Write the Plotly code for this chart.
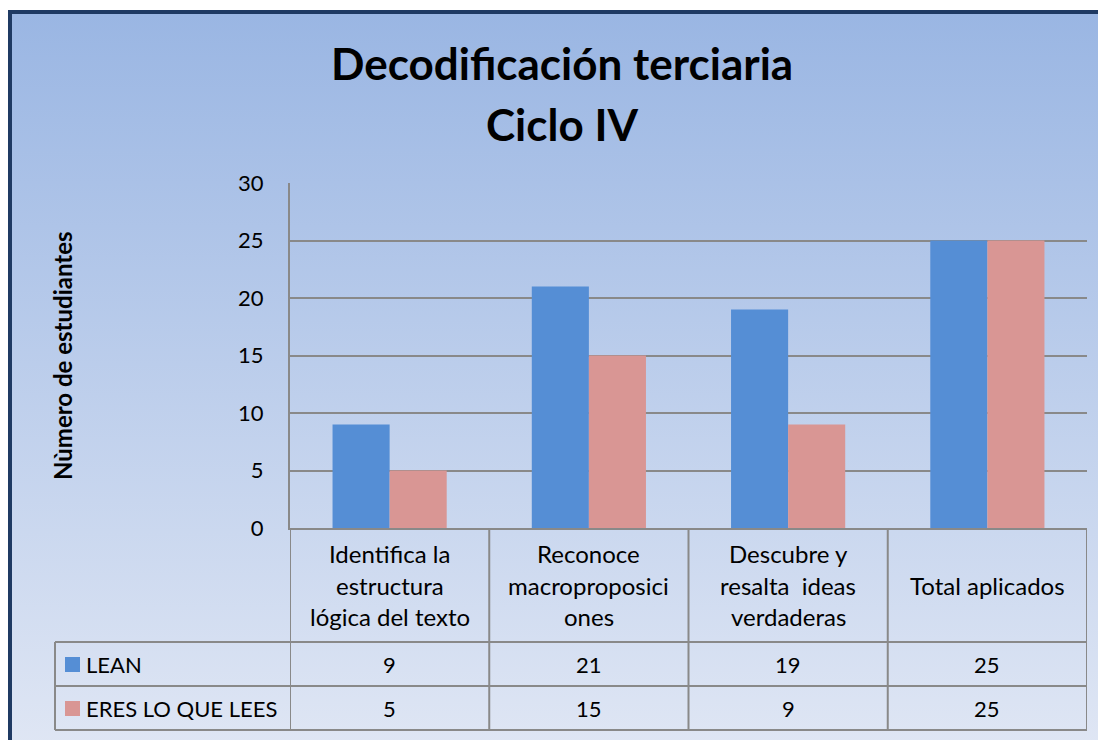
import base64
import plotly.graph_objects as go

# ---- data ----
categories = [
    "Identifica la\nestructura\nlógica del texto",
    "Reconoce\nmacroproposici\nones",
    "Descubre y\nresalta  ideas\nverdaderas",
    "Total aplicados",
]
series_names = ["LEAN", "ERES LO QUE LEES"]
lean_values = [9, 21, 19, 25]
eres_values = [5, 15, 9, 25]
y_ticks = [0, 5, 10, 15, 20, 25, 30]
title_lines = ["Decodificación terciaria", "Ciclo IV"]
y_title = "Nùmero de estudiantes"

# ---- style ----
OFF = 8  # page body margin
W, H = 1106 - OFF, 740 - OFF
L, R, T, B = 290 - OFF, 1087 - OFF, 183 - OFF, 528 - OFF  # plot area in fig px
BLUE = "#558ED5"
PINK = "#D99694"
GRID = "#898989"
FONT = "Lato"
series_values = [lean_values, eres_values]
series_colors = [BLUE, PINK]


def px(xp):  # xp in page px
    return (xp - OFF - L) / (R - L)


def py(yp):
    return (B - (yp - OFF)) / (B - T)


fig = go.Figure()
xs = list(range(len(categories)))
for name, vals, col in zip(series_names, series_values, series_colors):
    fig.add_trace(go.Bar(x=xs, y=vals, name=name, marker=dict(color=col, line=dict(width=0)),
                         showlegend=False))

# gradient background via svg image
svg = ('<svg xmlns="http://www.w3.org/2000/svg" width="100" height="100" preserveAspectRatio="none">'
       '<defs><linearGradient id="g" x1="0" y1="0" x2="0" y2="1">'
       '<stop offset="0" stop-color="#9AB6E3"/><stop offset="1" stop-color="#DFE6F4"/>'
       '</linearGradient></defs><rect width="100" height="100" fill="url(#g)"/></svg>')
src = "data:image/svg+xml;base64," + base64.b64encode(svg.encode()).decode()
fig.add_layout_image(dict(source=src, xref="paper", yref="paper", x=px(12), y=py(14),
                          sizex=px(1110) - px(12), sizey=py(14) - py(745),
                          xanchor="left", yanchor="top", sizing="stretch", layer="below"))

shapes = []
# border (top & left)
shapes.append(dict(type="line", xref="paper", yref="paper", x0=px(8), x1=px(1115), y0=py(12), y1=py(12),
                   line=dict(color="#1F3A63", width=4)))
shapes.append(dict(type="line", xref="paper", yref="paper", x0=px(10), x1=px(10), y0=py(10), y1=py(745),
                   line=dict(color="#1F3A63", width=4)))

# table lines
row_lines = [642, 686, 730]
tl = dict(color=GRID, width=2)
n = len(categories)
for k in range(n + 1):
    xb = k - 0.5
    shapes.append(dict(type="line", xref="x", yref="paper", x0=xb, x1=xb, y0=py(528), y1=py(730), line=tl))
for yy in row_lines:
    shapes.append(dict(type="line", xref="paper", yref="paper", x0=px(55), x1=px(1087), y0=py(yy), y1=py(yy),
                       line=tl))
shapes.append(dict(type="line", xref="paper", yref="paper", x0=px(55), x1=px(55), y0=py(642), y1=py(730),
                   line=tl))
# legend keys
row_centers = [664, 708]
for yc, col in zip(row_centers, series_colors):
    shapes.append(dict(type="rect", xref="paper", yref="paper", x0=px(65), x1=px(80), y0=py(yc - 7),
                       y1=py(yc + 8), fillcolor=col, line=dict(width=0)))

ann = []
# title
for i, t in enumerate(title_lines):
    ann.append(dict(text="<b>%s</b>" % t, xref="paper", yref="paper", x=px(562), y=py([63, 124][i]),
                    showarrow=False, xanchor="center", yanchor="middle",
                    font=dict(family=FONT, size=44, color="black")))
# y title
ann.append(dict(text="<b>%s</b>" % y_title, xref="paper", yref="paper", x=px(62), y=py(355), textangle=-90,
                showarrow=False, xanchor="center", yanchor="middle",
                font=dict(family=FONT, size=24, color="black")))
# header labels
for i, c in enumerate(categories):
    lines = c.split("\n")
    nl = len(lines)
    for j, ln in enumerate(lines):
        yc = 585 + (j - (nl - 1) / 2) * 31.5
        ann.append(dict(text=ln, xref="x", yref="paper", x=i, y=py(yc), showarrow=False,
                        xanchor="center", yanchor="middle", font=dict(family=FONT, size=24, color="black")))
# rows
for name, vals, yc in zip(series_names, series_values, row_centers):
    ann.append(dict(text=name, xref="paper", yref="paper", x=px(84), y=py(yc), showarrow=False,
                    xanchor="left", yanchor="middle", font=dict(family=FONT, size=22, color="black")))
    for i, v in enumerate(vals):
        ann.append(dict(text=str(v), xref="x", yref="paper", x=i, y=py(yc), showarrow=False,
                        xanchor="center", yanchor="middle", font=dict(family=FONT, size=22, color="black")))

fig.update_layout(
    width=W, height=H,
    margin=dict(l=L, r=W - R, t=T, b=H - B, pad=0),
    paper_bgcolor="white", plot_bgcolor="rgba(0,0,0,0)",
    barmode="group", bargap=0.427, bargroupgap=0,
    shapes=shapes, annotations=ann,
    xaxis=dict(range=[-0.5, n - 0.5], showticklabels=False, showgrid=False, zeroline=False,
               showline=True, linecolor=GRID, linewidth=2, ticks=""),
    yaxis=dict(range=[0, 30], tickvals=y_ticks, showgrid=True, gridcolor=GRID, gridwidth=2,
               zeroline=False, showline=True, linecolor=GRID, linewidth=2, ticks="",
               ticklabelstandoff=20, tickfont=dict(family=FONT, size=22, color="black")),
)
fig.write_html("out.html")
